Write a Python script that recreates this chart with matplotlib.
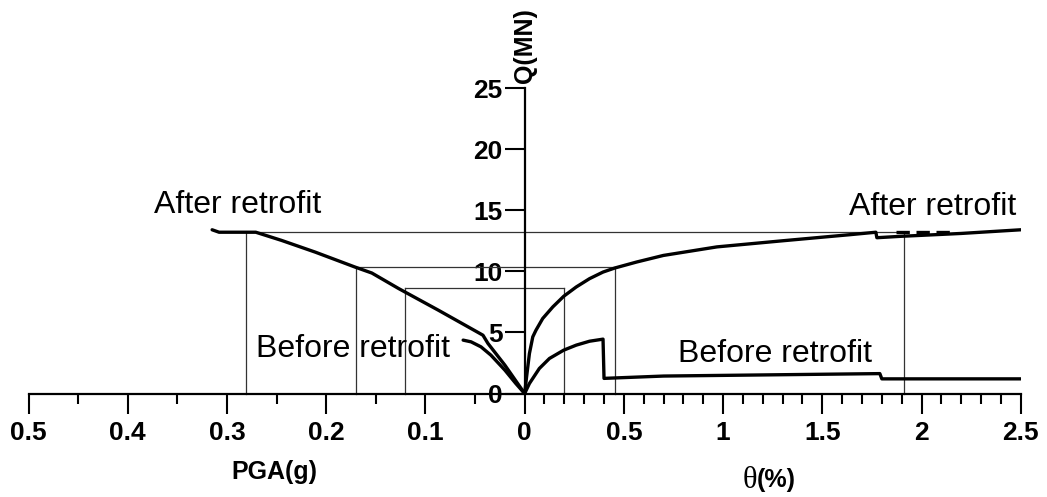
import matplotlib.pyplot as plt

# right half: drift ratio theta (%) vs base shear Q (MN)
theta_after = [0, 0.01, 0.024, 0.041, 0.057, 0.091, 0.142, 0.197, 0.26,
               0.327, 0.395, 0.454, 0.564, 0.699, 0.969, 1.30, 1.64, 1.77,
               1.775, 1.89, 2.2, 2.5]
q_after_theta = [0, 1.4, 3.27, 4.64, 5.18, 6.14, 7.09, 7.96, 8.72,
                 9.4, 9.94, 10.27, 10.76, 11.3, 12.0, 12.5, 13.0, 13.2,
                 12.75, 12.86, 13.1, 13.4]
theta_after_dash = [1.87, 2.17]
q_after_dash = [13.22, 13.22]

theta_before = [0, 0.024, 0.074, 0.125, 0.197, 0.26, 0.327, 0.395, 0.40,
                0.70, 1.79, 1.80, 2.5]
q_before_theta = [0, 0.82, 2.05, 2.87, 3.55, 3.96, 4.28, 4.45, 1.24,
                  1.43, 1.63, 1.2, 1.2]

# left half: PGA (g) vs base shear Q (MN)
pga_after = [0.315, 0.308, 0.271, 0.245, 0.211, 0.171, 0.154, 0.127, 0.087,
             0.047, 0.042, 0.037, 0.020, 0]
q_after_pga = [13.4, 13.2, 13.2, 12.53, 11.57, 10.35, 9.86, 8.59, 6.82,
               5.0, 4.77, 4.1, 2.33, 0]
pga_before = [0.062, 0.054, 0.044, 0.034, 0.020, 0.009, 0]
q_before_pga = [4.37, 4.23, 3.82, 3.14, 1.92, 0.83, 0]

# projection lines linking PGA, Q and theta
pga_marks = [0.281, 0.170, 0.121]
theta_marks = [1.91, 0.454, 0.196]
q_marks = [13.2, 10.35, 8.64]

pga_ticks = [0.5, 0.4, 0.3, 0.2, 0.1]
theta_ticks = [0.5, 1, 1.5, 2, 2.5]
q_ticks = [0, 5, 10, 15, 20, 25]

# 0.1 g on the left takes the same width as 0.5 % on the right
SCALE = 5.0

plt.rcParams["font.family"] = ["Liberation Sans", "DejaVu Sans"]

fig = plt.figure(figsize=(10.47, 4.97), dpi=100)
ax = fig.add_axes([0.0273, 0.0115, 0.9749 - 0.0273, 0.9704 - 0.0115])
ax.set_xlim(-2.5, 2.5)
ax.set_ylim(-8, 31)

for p, t, q in zip(pga_marks, theta_marks, q_marks):
    ax.plot([-SCALE * p, -SCALE * p], [0, q], color="#333333", lw=0.9, zorder=2)
    ax.plot([-SCALE * p, t], [q, q], color="#333333", lw=0.9, zorder=2)
    ax.plot([t, t], [0, q], color="#333333", lw=0.9, zorder=2)

curve = dict(color="black", lw=2.4, solid_capstyle="round",
             solid_joinstyle="round", zorder=4)
ax.plot(theta_after, q_after_theta, **curve)
ax.plot(theta_before, q_before_theta, **curve)
ax.plot([-SCALE * p for p in pga_after], q_after_pga, **curve)
ax.plot([-SCALE * p for p in pga_before], q_before_pga, **curve)
ax.plot(theta_after_dash, q_after_dash, color="black", lw=2.4,
        dashes=(4, 2), zorder=4)

# axes through the origin
for side in ["top", "right"]:
    ax.spines[side].set_visible(False)
ax.spines["left"].set_position(("data", 0))
ax.spines["bottom"].set_position(("data", 0))
ax.spines["left"].set_bounds(0, 25)
ax.spines["bottom"].set_bounds(-2.5, 2.5)
ax.spines["left"].set_linewidth(1.6)
ax.spines["bottom"].set_linewidth(1.6)

xt = [-SCALE * p for p in pga_ticks] + [0] + theta_ticks
xl = [f"{p:g}" for p in pga_ticks] + ["0"] + [f"{t:g}" for t in theta_ticks]
ax.set_xticks(xt)
ax.set_xticklabels(xl, fontsize=19, fontweight="bold")
minor = [-SCALE * (p - 0.05) for p in pga_ticks]
minor += [i / 10 for i in range(1, 25) if i % 5 != 0]
ax.set_xticks(minor, minor=True)
ax.tick_params(axis="x", which="major", direction="out", length=14.5,
               width=1.5, pad=5)
ax.tick_params(axis="x", which="minor", direction="out", length=7.5,
               width=1.5)

ax.set_yticks(q_ticks)
ax.set_yticklabels([str(q) for q in q_ticks], fontsize=19, fontweight="bold")
ax.tick_params(axis="y", direction="out", length=14.5, width=1.5, pad=1.5)

ax.text(0, 25.4, "Q(MN)", rotation=90, ha="center", va="bottom",
        fontsize=18, fontweight="bold")
ax.text(-1.26, -6.4, "PGA(g)", ha="center", va="center",
        fontsize=18, fontweight="bold")
ax.text(1.17, -7.1, "\u03b8", ha="right", va="center", fontsize=22,
        family=["Liberation Serif", "DejaVu Serif"])
ax.text(1.17, -7.1, "(%)", ha="left", va="center", fontsize=18,
        fontweight="bold")

ax.text(-1.868, 14.77, "After retrofit", fontsize=23, ha="left", va="baseline")
ax.text(2.477, 14.6, "After retrofit", fontsize=23, ha="right", va="baseline")
ax.text(-1.354, 3.0, "Before retrofit", fontsize=23, ha="left", va="baseline")
ax.text(0.773, 2.6, "Before retrofit", fontsize=23, ha="left", va="baseline")

fig.savefig("out.png", dpi=100)
